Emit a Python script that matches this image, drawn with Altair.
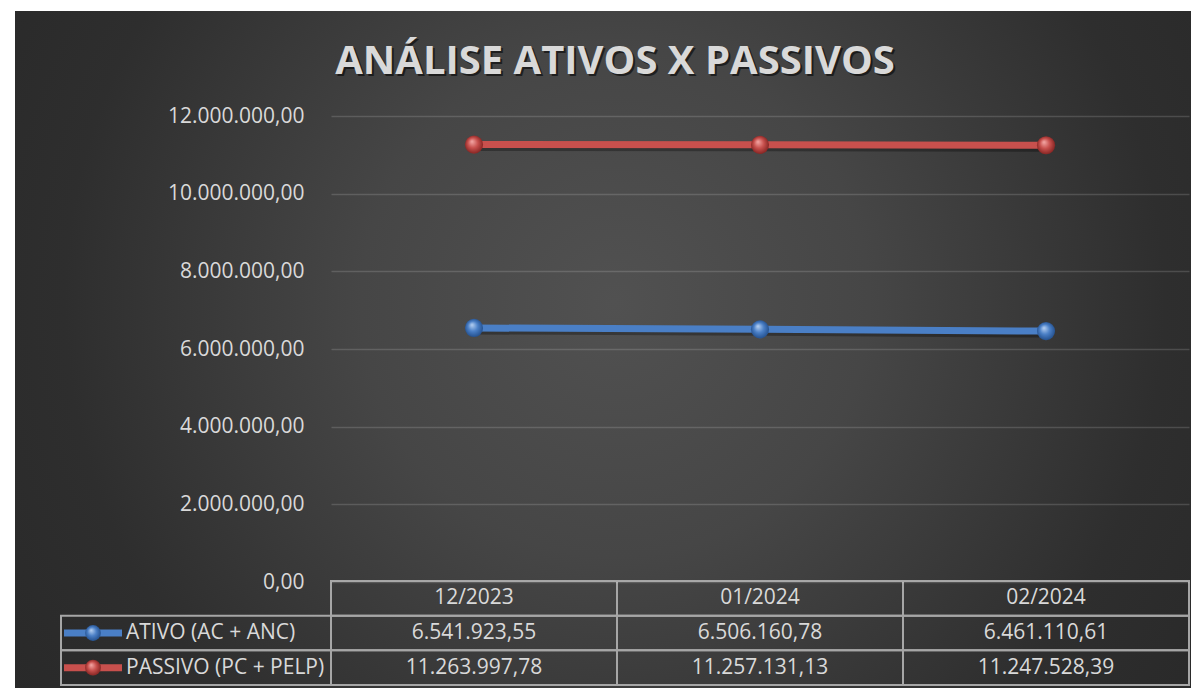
import altair as alt
import pandas as pd

# ---------------- data ----------------
periods = ["12/2023", "01/2024", "02/2024"]
series = ["ATIVO (AC + ANC)", "PASSIVO (PC + PELP)"]
ativo = [6541923.55, 6506160.78, 6461110.61]
passivo = [11263997.78, 11257131.13, 11247528.39]
y_ticks = [0, 2000000, 4000000, 6000000, 8000000, 10000000, 12000000]
title_text = ["ANÁLISE ATIVOS X PASSIVOS"]

# ---------------- styling ----------------
W, H = 858, 466
colors = ["#4a7fc6", "#c8504d"]
light = ["#b9d2f2", "#f4aaa8"]
dark = ["#1f4a86", "#7c1f1d"]
txt = "#d9d9d9"
border = "#a6a6a6"
FONT = "Open Sans"
FS = 21

rows = []
for i, p in enumerate(periods):
    rows.append({"periodo": p, "serie": series[0], "valor": ativo[i], "r0": 1, "r1": 2})
    rows.append({"periodo": p, "serie": series[1], "valor": passivo[i], "r0": 2, "r1": 3})
df = pd.DataFrame(rows)
hdr = pd.DataFrame({"periodo": periods, "r0": [0] * len(periods), "r1": [1] * len(periods)})
leg = pd.DataFrame({"serie": series, "r0": [1, 2], "r1": [2, 3]})
one = pd.DataFrame({"t": title_text})

x_scale = alt.Scale(type="band", domain=periods, paddingInner=0, paddingOuter=0)
row_scale = alt.Scale(domain=[0, 3], range=[465, 569], zero=False, nice=False)
val_scale = alt.Scale(domain=[0, 12000000], nice=False)
color_scale = alt.Scale(domain=series, range=colors)


def sphere(base, lt, dk):
    return {
        "gradient": "radial",
        "x1": 0.38, "y1": 0.32, "r1": 0.0,
        "x2": 0.5, "y2": 0.5, "r2": 0.55,
        "stops": [
            {"offset": 0.0, "color": lt},
            {"offset": 0.5, "color": base},
            {"offset": 1.0, "color": dk},
        ],
    }


bg_grad = {
    "gradient": "radial",
    "x1": 0.51, "y1": 0.46, "r1": 0.0,
    "x2": 0.51, "y2": 0.46, "r2": 0.72,
    "stops": [
        {"offset": 0.0, "color": "#515151"},
        {"offset": 0.3, "color": "#464646"},
        {"offset": 0.65, "color": "#2e2e2e"},
        {"offset": 1.0, "color": "#252525"},
    ],
}

background = alt.Chart(one).mark_rect(fill=bg_grad, stroke=None).encode(
    x=alt.value(-316), x2=alt.value(W + 2), y=alt.value(-105), y2=alt.value(H + 106)
)

title_shadow = alt.Chart(one).mark_text(
    font=FONT, fontSize=40, fontWeight="bold", fill="#000000", opacity=0.55,
    align="center", baseline="middle", xOffset=2, yOffset=2,
).encode(x=alt.value(284), y=alt.value(-54), text="t:N")
title = alt.Chart(one).mark_text(
    font=FONT, fontSize=40, fontWeight="bold", fill=txt,
    align="center", baseline="middle",
).encode(x=alt.value(284), y=alt.value(-54), text="t:N")

x_pt = alt.X("periodo:N", scale=x_scale, axis=None, bandPosition=0.5)
y_axis = alt.Y(
    "valor:Q",
    scale=val_scale,
    axis=alt.Axis(
        values=y_ticks, format=",.2f", title=None, domain=False, ticks=False,
        labelFont=FONT, labelFontSize=FS, labelColor=txt, labelPadding=27,
        gridColor="#ffffff", gridOpacity=0.15, gridWidth=1.6, zindex=1,
    ),
)
y_plain = alt.Y("valor:Q", scale=val_scale, axis=None)

line_shadow = alt.Chart(df).mark_line(
    strokeWidth=7, color="#000000", opacity=0.3, yOffset=3
).encode(x=x_pt, y=y_axis, detail="serie:N")
lines = alt.Chart(df).mark_line(strokeWidth=7).encode(
    x=x_pt, y=y_plain, color=alt.Color("serie:N", scale=color_scale, legend=None)
)
pts = [
    alt.Chart(df).transform_filter(alt.datum.serie == s).mark_point(
        filled=True, size=330, shape="circle", fill=sphere(colors[k], light[k], dark[k]),
        strokeWidth=0, opacity=1,
    ).encode(x=x_pt, y=y_plain)
    for k, s in enumerate(series)
]

# ---------------- data table ----------------
y_r0 = alt.Y("r0:Q", scale=row_scale, axis=None)
y_r1 = alt.Y2("r1:Q")
y_rc = alt.Y("rc:Q", scale=row_scale, axis=None)
x_band = alt.X("periodo:N", scale=x_scale, axis=None)

cell_style = dict(fill="#000000", fillOpacity=0, stroke=border, strokeWidth=2)
hdr_cells = alt.Chart(hdr).mark_rect(**cell_style).encode(x=x_band, y=y_r0, y2=y_r1)
val_cells = alt.Chart(df).mark_rect(**cell_style).encode(x=x_band, y=y_r0, y2=y_r1)
leg_cells = alt.Chart(leg).mark_rect(**cell_style).encode(
    x=alt.value(-270), x2=alt.value(0), y=y_r0, y2=y_r1
)

txt_style = dict(font=FONT, fontSize=FS, fill=txt, baseline="middle")
hdr_text = alt.Chart(hdr).transform_calculate(rc="(datum.r0 + datum.r1) / 2").mark_text(
    align="center", **txt_style
).encode(x=x_pt, y=y_rc, text="periodo:N")
val_text = alt.Chart(df).transform_calculate(rc="(datum.r0 + datum.r1) / 2").mark_text(
    align="center", **txt_style
).encode(x=x_pt, y=y_rc, text=alt.Text("valor:Q", format=",.2f"))
leg_text = alt.Chart(leg).transform_calculate(rc="(datum.r0 + datum.r1) / 2").mark_text(
    align="left", **txt_style
).encode(x=alt.value(-205), y=y_rc, text="serie:N")
leg_lines = alt.Chart(leg).transform_calculate(rc="(datum.r0 + datum.r1) / 2").mark_rule(
    strokeWidth=7
).encode(
    x=alt.value(-267), x2=alt.value(-209), y=y_rc,
    color=alt.Color("serie:N", scale=color_scale, legend=None),
)
leg_pts = [
    alt.Chart(leg).transform_calculate(rc="(datum.r0 + datum.r1) / 2").transform_filter(
        alt.datum.serie == s
    ).mark_point(
        filled=True, size=250, shape="circle", fill=sphere(colors[k], light[k], dark[k]),
        strokeWidth=0, opacity=1,
    ).encode(x=alt.value(-238), y=y_rc)
    for k, s in enumerate(series)
]

chart = alt.layer(
    background, title_shadow, title,
    line_shadow, lines, *pts,
    hdr_cells, val_cells, leg_cells, hdr_text, val_text, leg_text, leg_lines, *leg_pts,
).resolve_scale(y="independent").properties(
    width=W, height=H,
    autosize=alt.AutoSizeParams(type="none"),
    padding={"left": 323, "top": 108, "right": 2, "bottom": 106},
    background="#ffffff",
).configure_view(stroke=None).configure(
    locale=alt.Locale(number=alt.NumberLocale(
        decimal=",", thousands=".", grouping=[3], currency=["R$ ", ""]
    ))
)

chart.save("out.html", embed_options={"renderer": "svg", "actions": False})
